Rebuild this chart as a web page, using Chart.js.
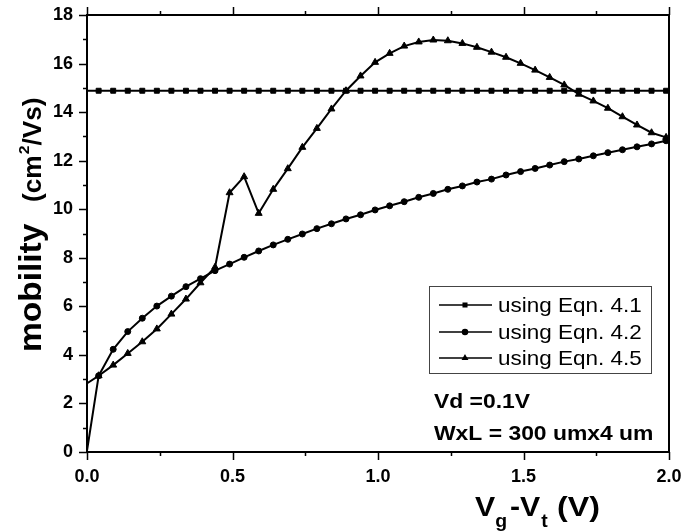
<!DOCTYPE html>
<html>
<head>
<meta charset="utf-8">
<script src="https://cdn.jsdelivr.net/npm/chart.js@4"></script>
<style>
  body { margin: 0; background: #fff; }
</style>
</head>
<body>
<canvas id="mobilityChart" width="686" height="531"></canvas>
<script>
// gate overdrive Vg - Vt (V)
const vg = [
  -0.01, 0.04, 0.09, 0.14, 0.19, 0.24, 0.29, 0.34, 0.39, 0.44,
  0.49, 0.54, 0.59, 0.64, 0.69, 0.74, 0.79, 0.84, 0.89, 0.94,
  0.99, 1.04, 1.09, 1.14, 1.19, 1.24, 1.29, 1.34, 1.39, 1.44,
  1.49, 1.54, 1.59, 1.64, 1.69, 1.74, 1.79, 1.84, 1.89, 1.94, 1.99
];

// mobility (cm2/Vs)
const eqn41 = [
  14.88, 14.88, 14.88, 14.88, 14.88, 14.88, 14.88, 14.88, 14.88, 14.88,
  14.88, 14.88, 14.88, 14.88, 14.88, 14.88, 14.88, 14.88, 14.88, 14.88,
  14.88, 14.88, 14.88, 14.88, 14.88, 14.88, 14.88, 14.88, 14.88, 14.88,
  14.88, 14.88, 14.88, 14.88, 14.88, 14.88, 14.88, 14.88, 14.88, 14.88, 14.88
];
const eqn42 = [
  2.75, 3.14, 4.23, 4.96, 5.51, 6.01, 6.42, 6.81, 7.14, 7.47,
  7.74, 8.02, 8.28, 8.53, 8.76, 8.98, 9.20, 9.40, 9.60, 9.77,
  9.97, 10.14, 10.31, 10.49, 10.65, 10.82, 10.96, 11.12, 11.24, 11.41,
  11.55, 11.68, 11.82, 11.96, 12.07, 12.20, 12.33, 12.45, 12.57, 12.69, 12.82
];
const eqn45 = [
  -0.72, 3.14, 3.58, 4.06, 4.54, 5.07, 5.68, 6.30, 6.97, 7.61,
  10.68, 11.34, 9.83, 10.82, 11.67, 12.55, 13.33, 14.13, 14.88, 15.49,
  16.05, 16.42, 16.72, 16.89, 16.97, 16.94, 16.83, 16.67, 16.47, 16.26,
  16.01, 15.73, 15.43, 15.12, 14.74, 14.46, 14.16, 13.81, 13.47, 13.15, 12.96
];

const seriesLabels = ['using Eqn. 4.1', 'using Eqn. 4.2', 'using Eqn. 4.5'];
const xTicksMajor = [0.0, 0.5, 1.0, 1.5, 2.0];
const yTicksMajor = [0, 2, 4, 6, 8, 10, 12, 14, 16, 18];

const FONT = '"Liberation Sans", Arial, sans-serif';

function pts(ys) {
  return vg.map((x, i) => ({ x: x, y: ys[i] }));
}

function onList(list, v) {
  return list.some(t => Math.abs(t - v) < 1e-6);
}

function series(label, ys, style, r) {
  return {
    label: label,
    data: pts(ys),
    borderColor: '#000',
    backgroundColor: '#000',
    borderWidth: 2,
    pointStyle: style,
    pointRadius: r,
    pointBorderWidth: 1,
    tension: 0,
    clip: 0
  };
}

// text drawn a little wider than the font's own metrics
function wideText(ctx, text, x, y, sx) {
  ctx.save();
  ctx.translate(x, y);
  ctx.scale(sx, 1);
  ctx.fillText(text, 0, 0);
  ctx.restore();
  return ctx.measureText(text).width * sx;
}

// invisible tick marks: they only push the labels away from the axis line
const labelGap = {
  display: true,
  drawOnChartArea: false,
  drawTicks: true,
  tickLength: 14,
  tickColor: 'rgba(0,0,0,0)'
};

// outward tick marks on bottom / top / left, long on labelled values
const tickMarks = {
  id: 'tickMarks',
  afterDraw(chart) {
    const { ctx, chartArea: a, scales } = chart;
    ctx.save();
    ctx.strokeStyle = '#000';
    ctx.lineWidth = 1.5;
    ctx.beginPath();
    scales.x.ticks.forEach(t => {
      const px = Math.round(scales.x.getPixelForValue(t.value)) + 0.5;
      const len = onList(xTicksMajor, t.value) ? 8 : 4;
      ctx.moveTo(px, a.bottom); ctx.lineTo(px, a.bottom + len);
      ctx.moveTo(px, a.top); ctx.lineTo(px, a.top - len);
    });
    scales.y.ticks.forEach(t => {
      const py = Math.round(scales.y.getPixelForValue(t.value)) + 0.5;
      const len = onList(yTicksMajor, t.value) ? 8 : 4;
      ctx.moveTo(a.left - len, py); ctx.lineTo(a.left, py);
    });
    ctx.stroke();
    ctx.restore();
  }
};

// axis titles, legend box and the bias note
const decorations = {
  id: 'decorations',
  afterDraw(chart) {
    const ctx = chart.ctx;
    ctx.save();
    ctx.fillStyle = '#000';

    // y title, rotated
    ctx.save();
    ctx.translate(32, 352);
    ctx.rotate(-Math.PI / 2);
    ctx.textBaseline = 'middle';
    ctx.textAlign = 'left';
    ctx.font = 'bold 31px ' + FONT;
    wideText(ctx, 'mobility', 0, 0, 1.08);
    ctx.font = 'bold 25px ' + FONT;
    let ux = 150;
    ux += wideText(ctx, '(cm', ux, 2, 1.05);
    ctx.font = 'bold 15px ' + FONT;
    ux += wideText(ctx, '2', ux + 1, -7, 1.05) + 1;
    ctx.font = 'bold 25px ' + FONT;
    wideText(ctx, '/Vs)', ux, 2, 1.05);
    ctx.restore();

    // x title with subscripts
    ctx.textBaseline = 'alphabetic';
    ctx.textAlign = 'left';
    let x = 475;
    ctx.font = 'bold 28px ' + FONT;
    x += wideText(ctx, 'V', x, 516, 1.08);
    ctx.font = 'bold 18px ' + FONT;
    x += wideText(ctx, 'g', x, 527, 1.08) + 3;
    ctx.font = 'bold 28px ' + FONT;
    x += wideText(ctx, '-V', x, 516, 1.08);
    ctx.font = 'bold 18px ' + FONT;
    x += wideText(ctx, 't', x + 1, 527, 1.08);
    ctx.font = 'bold 28px ' + FONT;
    wideText(ctx, '(V)', 557, 516, 1.15);

    // legend
    const box = { l: 429, t: 286, r: 651, b: 373 };
    ctx.fillStyle = '#fff';
    ctx.fillRect(box.l, box.t, box.r - box.l, box.b - box.t);
    ctx.strokeStyle = '#444';
    ctx.lineWidth = 1;
    ctx.strokeRect(box.l + 0.5, box.t + 0.5, box.r - box.l, box.b - box.t);
    const rows = [305, 332, 358];
    const styles = ['rect', 'circle', 'triangle'];
    chart.data.datasets.forEach((ds, i) => {
      const cy = rows[i];
      ctx.strokeStyle = '#000';
      ctx.lineWidth = 1.5;
      ctx.beginPath();
      ctx.moveTo(439, cy); ctx.lineTo(492, cy);
      ctx.stroke();
      ctx.fillStyle = '#000';
      Chart.helpers.drawPoint(ctx, { pointStyle: styles[i], radius: 2.5, borderWidth: 1 }, 465, cy);
      ctx.fill();
      ctx.font = '21px ' + FONT;
      ctx.textBaseline = 'middle';
      wideText(ctx, ds.label, 498, cy + 1, 1.07);
    });

    // bias conditions
    ctx.font = 'bold 21px ' + FONT;
    ctx.textBaseline = 'middle';
    wideText(ctx, 'Vd =0.1V', 434, 402, 1.09);
    wideText(ctx, 'WxL = 300 umx4 um', 434, 434, 1.09);

    ctx.restore();
  }
};

new Chart(document.getElementById('mobilityChart'), {
  type: 'line',
  data: {
    datasets: [
      series(seriesLabels[0], eqn41, 'rect', 3.5),
      series(seriesLabels[1], eqn42, 'circle', 3),
      series(seriesLabels[2], eqn45, 'triangle', 4)
    ]
  },
  options: {
    responsive: false,
    animation: false,
    layout: { padding: 0, autoPadding: false },
    plugins: {
      legend: { display: false },
      tooltip: { enabled: false }
    },
    scales: {
      x: {
        type: 'linear',
        position: 'bottom',
        min: 0,
        max: 2,
        afterFit: s => { s.height = 79; },
        grid: labelGap,
        border: { display: true, color: '#000', width: 2 },
        ticks: {
          stepSize: 0.25,
          padding: 0,
          color: '#000',
          font: { family: FONT, size: 18, weight: 'bold' },
          maxRotation: 0,
          autoSkip: false,
          callback: v => onList(xTicksMajor, v) ? v.toFixed(1) : ''
        }
      },
      xTop: {
        type: 'linear',
        position: 'top',
        min: 0,
        max: 2,
        afterFit: s => { s.height = 15; },
        grid: { display: false, drawTicks: false },
        border: { display: true, color: '#000', width: 2 },
        ticks: { display: false, padding: 0 }
      },
      y: {
        type: 'linear',
        position: 'left',
        min: 0,
        max: 18,
        afterFit: s => { s.width = 87; },
        grid: labelGap,
        border: { display: true, color: '#000', width: 2 },
        ticks: {
          stepSize: 1,
          padding: 0,
          color: '#000',
          font: { family: FONT, size: 18, weight: 'bold' },
          autoSkip: false,
          callback: v => onList(yTicksMajor, v) ? String(v) : ''
        }
      },
      yRight: {
        type: 'linear',
        position: 'right',
        min: 0,
        max: 18,
        afterFit: s => { s.width = 17; },
        grid: { display: false, drawTicks: false },
        border: { display: true, color: '#000', width: 2 },
        ticks: { display: false, padding: 0 }
      }
    }
  },
  plugins: [tickMarks, decorations]
});
</script>
</body>
</html>
